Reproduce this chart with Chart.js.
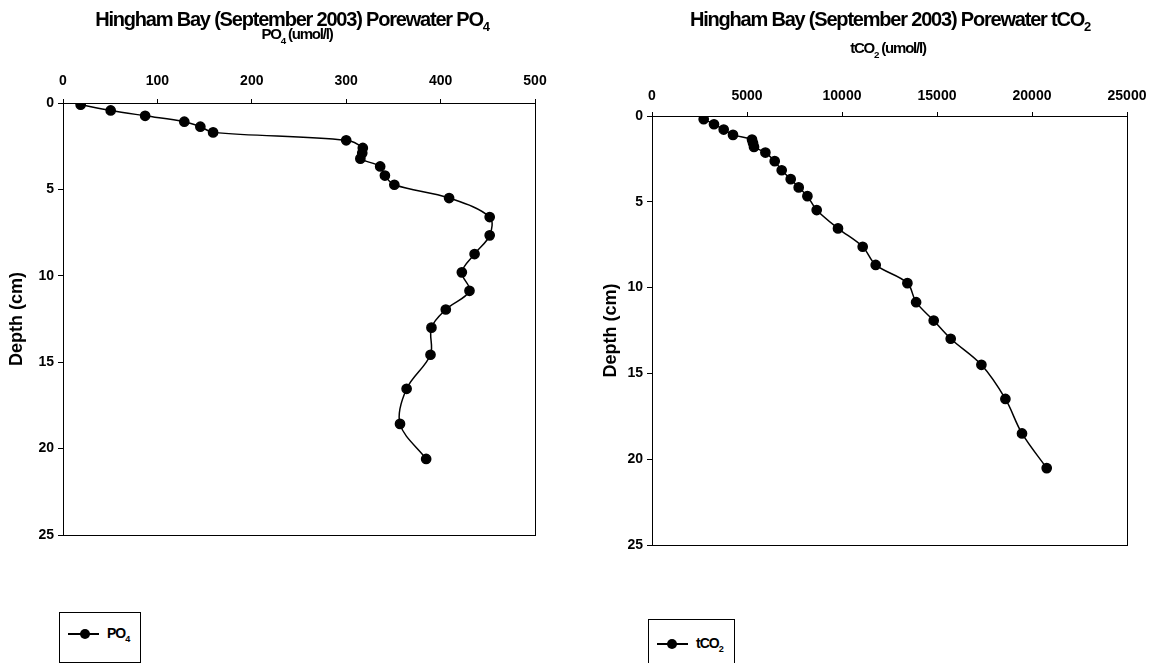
<!DOCTYPE html>
<html>
<head>
<meta charset="utf-8">
<script src="https://cdn.jsdelivr.net/npm/chart.js@4/dist/chart.umd.min.js"></script>
<style>
  body { margin:0; background:#fff; width:1158px; height:663px; overflow:hidden; position:relative; font-family:"Liberation Sans", Arial, sans-serif; }
  .wrap { position:absolute; top:0; width:579px; height:663px; }
  .ttl { position:absolute; text-align:center; font-weight:bold; color:#000; letter-spacing:-1.2px; white-space:nowrap; }
  .ttl sub { font-size:65%; vertical-align:-5px; }
  .leg { position:absolute; border:1px solid #000; background:#fff; font-weight:bold; font-size:14px; letter-spacing:-1px; }
  .leg .ln { position:absolute; height:2px; background:#000; }
  .leg .dot { position:absolute; width:10px; height:10px; border-radius:50%; background:#000; }
  .leg .tx { position:absolute; }
  .leg sub { font-size:65%; vertical-align:-4px; }
</style>
</head>
<body>
<div class="wrap" style="left:0"><canvas id="c1"></canvas></div>
<div class="wrap" style="left:579px"><canvas id="c2"></canvas></div>

<div class="ttl" style="left:0;width:584px;top:8px;font-size:20px">Hingham Bay (September 2003) Porewater PO<sub>4</sub></div>
<div class="ttl" style="left:0;width:594px;top:25px;font-size:15px">PO<sub>4</sub> (umol/l)</div>
<div class="ttl" style="left:600px;width:580px;top:8px;font-size:20px">Hingham Bay (September 2003) Porewater tCO<sub>2</sub></div>
<div class="ttl" style="left:600px;width:576px;top:39px;font-size:15px">tCO<sub>2</sub> (umol/l)</div>

<div class="leg" style="left:59px;top:612px;width:80px;height:49px">
  <div class="ln" style="left:8px;top:20px;width:31px"></div>
  <div class="dot" style="left:20px;top:16px"></div>
  <div class="tx" style="left:47px;top:12px">PO<sub>4</sub></div>
</div>
<div class="leg" style="left:648px;top:619px;width:85px;height:50px">
  <div class="ln" style="left:8px;top:23px;width:31px"></div>
  <div class="dot" style="left:18px;top:19px"></div>
  <div class="tx" style="left:47px;top:15px">tCO<sub>2</sub></div>
</div>

<script>
// depth (cm) and concentrations (umol/l)
const depthPO4 = [0.1, 0.43, 0.74, 1.08, 1.37, 1.7, 2.16, 2.6, 2.9, 3.22, 3.67, 4.2, 4.73, 5.5, 6.6, 7.66, 8.74, 9.8, 10.87, 11.95, 13.0, 14.57, 16.54, 18.57, 20.6]
const po4 = [18.7, 50.5, 87, 128.5, 145.5, 159, 300, 317.6, 317, 315, 336, 341, 351, 409, 452, 452, 436, 422.5, 430.6, 405.5, 390.3, 389.3, 364, 357, 384.7]

const depthCO2 = [0.19, 0.48, 0.79, 1.1, 1.37, 1.57, 1.8, 2.13, 2.63, 3.16, 3.68, 4.16, 4.67, 5.48, 6.55, 7.62, 8.68, 9.74, 10.85, 11.92, 12.98, 14.5, 16.49, 18.5, 20.52]
const tco2 = [2721, 3263, 3774, 4263, 5263, 5316, 5368, 5968, 6458, 6826, 7300, 7721, 8179, 8668, 9789, 11089, 11774, 13442, 13900, 14826, 15721, 17337, 18600, 19474, 20774]

const depthTicks = [0, 25, 5]
const po4Ticks = [0, 500, 100]
const co2Ticks = [0, 25000, 5000]

const FONT = '"Liberation Sans", Arial, sans-serif'

// plot-area frame like the excel box
const frame = {
  id: 'frame',
  afterDatasetsDraw(chart) {
    const a = chart.chartArea, ctx = chart.ctx
    ctx.save()
    ctx.strokeStyle = '#000'
    ctx.lineWidth = 1
    ctx.strokeRect(Math.round(a.left)+0.5, Math.round(a.top)+0.5, Math.round(a.right-a.left), Math.round(a.bottom-a.top))
    ctx.restore()
  }
}

function makeChart(id, xs, ys, xt, box) {
  const pts = xs.map((x, i) => ({x, y: ys[i]}))
  return new Chart(document.getElementById(id), {
    type: 'scatter',
    data: { datasets: [{
      data: pts, showLine: true, tension: 0.35,
      borderColor: '#000', borderWidth: 1.5,
      pointBackgroundColor: '#000', pointBorderColor: '#000', pointRadius: 4.6
    }]},
    options: {
      responsive: false, animation: false, maintainAspectRatio: false,
      layout: { autoPadding: false, padding: {left: 0, top: 0, right: box.right, bottom: box.bottom} },
      plugins: { legend: {display: false}, tooltip: {enabled: false} },
      scales: {
        x: {
          type: 'linear', position: 'top', min: xt[0], max: xt[1],
          ticks: { stepSize: xt[2], color: '#000', padding: box.xpad, callback: v => String(v), font: {family: FONT, size: 14, weight: 'bold'} },
          grid: { drawOnChartArea: false, drawTicks: true, tickLength: 4, color: '#000' },
          border: { color: '#000', width: 1 },
          afterFit: s => { s.height = box.top }
        },
        y: {
          type: 'linear', reverse: true, min: depthTicks[0], max: depthTicks[1],
          ticks: { stepSize: depthTicks[2], color: '#000', padding: 4, font: {family: FONT, size: 14, weight: 'bold'} },
          grid: { drawOnChartArea: false, drawTicks: true, tickLength: 5, color: '#000' },
          border: { color: '#000', width: 1 },
          title: { display: true, text: 'Depth (cm)', color: '#000', padding: {top: box.tpad, bottom: 0}, font: {family: FONT, size: 18, weight: 'bold'} },
          afterFit: s => { s.width = box.left }
        }
      }
    },
    plugins: [frame]
  })
}

const c1 = document.getElementById('c1'); c1.width = 579; c1.height = 663
const c2 = document.getElementById('c2'); c2.width = 579; c2.height = 663

makeChart('c1', po4, depthPO4, po4Ticks, {left: 63, top: 103, right: 44, bottom: 128, tpad: 6, xpad: 9})
makeChart('c2', tco2, depthCO2, co2Ticks, {left: 73, top: 116, right: 31, bottom: 118, tpad: 21, xpad: 7})
</script>
</body>
</html>
